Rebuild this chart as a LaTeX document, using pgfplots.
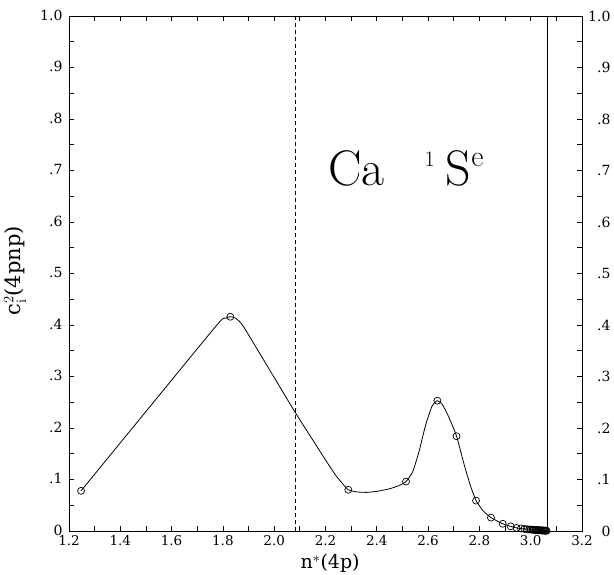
\documentclass[border=0pt]{standalone}
\usepackage{fontspec}
\usepackage{pgfplots}
\pgfplotsset{compat=1.18}
\newfontfamily\dvs{DejaVu Serif}
\begin{document}
\begin{tikzpicture}
\useasboundingbox (-69pt,-44pt) rectangle (545pt,531pt);
\pgfplotsset{
  common/.style={
    at={(0pt,0pt)}, anchor=south west,
    scale only axis, width=513pt, height=515pt,
    xmin=1.2, xmax=3.2, ymin=0, ymax=1,
    ytick={0,0.1,0.2,0.3,0.4,0.5,0.6,0.7,0.8,0.9,1.0},
    yticklabels={0,.1,.2,.3,.4,.5,.6,.7,.8,.9,1.0},
    minor ytick={0.05,0.15,0.25,0.35,0.45,0.55,0.65,0.75,0.85,0.95},
    tick align=inside, major tick length=5pt, minor tick length=5pt,
    tick style={line width=0.7pt, black},
    axis line style={line width=0.8pt},
    /pgf/number format/assume math mode=true,
    tick label style={font=\dvs\fontsize{14}{14}\selectfont},
  }
}
\begin{axis}[common,
  xtick={1.2,1.4,1.6,1.8,2.0,2.2,2.4,2.6,2.8,3.0,3.2},
  xticklabels={1.2,1.4,1.6,1.8,2.0,2.2,2.4,2.6,2.8,3.0,3.2},
  minor xtick={1.3,1.5,1.7,1.9,2.1,2.3,2.5,2.7,2.9,3.1},
  xtick pos=both, ytick pos=both,
  yticklabel pos=left, xticklabel pos=bottom,
  yticklabel style={xshift=-3pt, yshift=1pt},
  xticklabel style={inner sep=1pt, yshift=-3.5pt, font=\dvs\fontsize{13.5}{13.5}\selectfont},
  clip=false,
]
\addplot[black, line width=0.8pt, dash pattern=on 4pt off 3pt] coordinates {(2.081,0) (2.081,1)};
\addplot[black, line width=0.8pt] coordinates {(3.064,0) (3.064,1)};
% curve
\addplot[black, line width=0.8pt, smooth, tension=0.35, mark=none] coordinates {
(1.247,0.078) (1.50,0.232) (1.78,0.402) (1.81,0.413) (1.829,0.416) (1.85,0.413) (1.88,0.397) (2.00,0.298) (2.081,0.231) (2.15,0.177) (2.20,0.138) (2.24,0.108) (2.27,0.090) (2.289,0.080) (2.32,0.076) (2.36,0.075) (2.40,0.077) (2.45,0.082) (2.49,0.089) (2.514,0.096) (2.54,0.115) (2.565,0.155) (2.59,0.205) (2.615,0.242) (2.636,0.253) (2.655,0.246) (2.68,0.222) (2.711,0.184) (2.74,0.130) (2.765,0.088) (2.787,0.059) (2.815,0.039) (2.845,0.026) (2.891,0.014) (2.922,0.009) (2.945,0.006) (2.975,0.004) (3.01,0.0025) (3.062,0.0008)
};
\addplot[black, only marks, mark=o, mark size=3.5pt, mark options={line width=0.7pt}] coordinates {
(1.247,0.078) (1.829,0.416) (2.289,0.080) (2.514,0.096) (2.636,0.253) (2.711,0.184) (2.787,0.059) (2.845,0.026) (2.891,0.014) (2.922,0.009) (2.945,0.006) (2.962,0.005) (2.975,0.004) (2.985,0.0035) (2.994,0.003) (3.001,0.0028) (3.007,0.0025) (3.012,0.0023) (3.017,0.002) (3.021,0.0019) (3.025,0.0017) (3.029,0.0016) (3.032,0.0015) (3.035,0.0014) (3.038,0.0013) (3.041,0.0012) (3.044,0.0011) (3.047,0.001) (3.050,0.0009) (3.053,0.0008) (3.056,0.0007) (3.059,0.0006) (3.062,0.0005)
};
\node[anchor=base west, font=\fontsize{50}{50}\selectfont, inner sep=0pt] at (axis cs:2.21,0.67) {Ca\hspace{40pt}\raisebox{19.5pt}{\fontsize{22}{22}\selectfont 1}\hspace{11pt}S\raisebox{19pt}{\fontsize{30}{30}\selectfont e}};
\node[rotate=90, font=\dvs\fontsize{21}{21}\selectfont] at (axis description cs:-0.105,0.505) {c$_\mathrm{i}^{2}$(4pnp)};
\node[font=\dvs\fontsize{19}{19}\selectfont, inner sep=0.5pt] at (axis description cs:0.509,-0.0635) {n$^{*}$(4p)};
\end{axis}
\begin{axis}[common,
  hide x axis, axis y line*=right,
  ytick pos=right, yticklabel pos=right,
  yticklabel style={anchor=east, xshift=32pt},
]
\end{axis}
\end{tikzpicture}
\end{document}
